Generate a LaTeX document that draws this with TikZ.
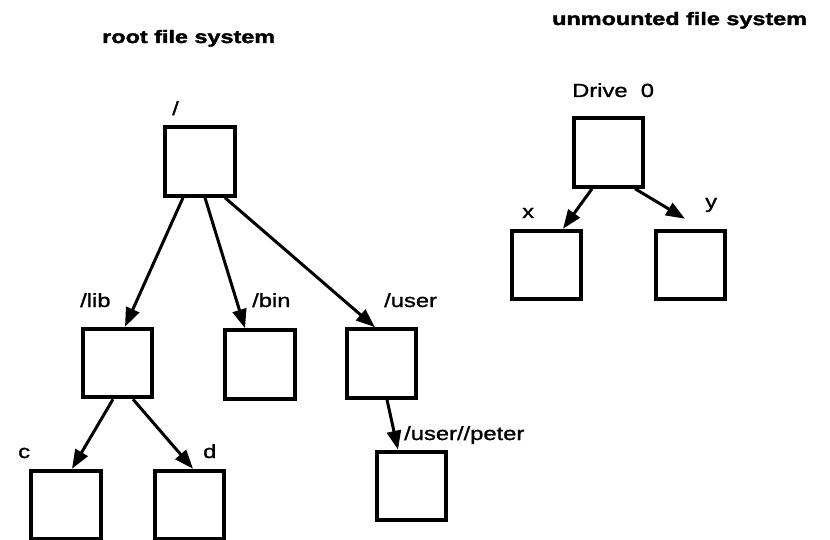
\documentclass[tikz,border=0pt]{standalone}
\usepackage{fontspec}
\usetikzlibrary{arrows.meta,calc}
\newfontfamily\lblfont[FakeStretch=1.25,FakeBold=1.3]{Liberation Sans}
\newfontfamily\ttlfont[FakeStretch=1.3,BoldFeatures={FakeBold=2}]{Liberation Sans}
\begin{document}
\begin{tikzpicture}[x=1pt,y=-1pt,
  dirbox/.style={draw,line width=4pt,minimum width=69.5pt,minimum height=68.5pt,inner sep=0pt},
  lbl/.style={anchor=base west,inner sep=0pt,font=\lblfont\fontsize{19}{21}\selectfont},
  ttl/.style={anchor=base west,inner sep=0pt,font=\ttlfont\bfseries\fontsize{18}{20}\selectfont},
  arr/.style={line width=3pt,-{Triangle[length=19pt,width=14pt]}}]
\useasboundingbox (0,0) rectangle (830,540);

% titles
\node[ttl] (t1) at (102,43) {root file system};
\node[ttl] (t2) at (552,25) {unmounted file system};

% root file system tree
\node[dirbox] (root) at (200,161.5) {};
\node[dirbox] (lib) at (117.5,363) {};
\node[dirbox] (bin) at (260,364.5) {};
\node[dirbox] (user) at (381.5,363.5) {};
\node[dirbox] (c) at (66,505) {};
\node[dirbox] (d) at (189.5,505) {};
\node[dirbox] (peter) at (411.5,486) {};

\node[lbl] (lroot) at (172,115) {/};
\node[lbl] (llib) at (80,307) {/lib};
\node[lbl] (lbin) at (252,307) {/bin};
\node[lbl] (luser) at (384,307) {/user};
\node[lbl] (lc) at (18,458) {c};
\node[lbl] (ld) at (203,458) {d};
\node[lbl] (lpeter) at (404,440) {/user//peter};

\draw[arr] ($(root.south)+(-17,0)$) -- ($(lib.north)+(7.5,0)$);
\draw[arr] ($(root.south)+(5,0)$) -- ($(bin.north)+(-15,0)$);
\draw[arr] ($(root.south)+(25,0)$) -- ($(user.north)+(-6.5,0)$);
\draw[arr] ($(lib.south)+(-4.5,0)$) -- ($(c.north)+(6,0)$);
\draw[arr] ($(lib.south)+(15.5,0)$) -- ($(d.north)+(3.5,0)$);
\draw[arr] ($(user.south)+(5.5,0)$) -- ($(peter.north)+(-13.5,0)$);

% unmounted file system
\node[dirbox] (drive) at (608.5,152.5) {};
\node[dirbox] (nx) at (546.5,265) {};
\node[dirbox] (ny) at (690.5,265) {};

\node[lbl] (ldrive) at (572,97) {Drive\ \ 0};
\node[lbl] (lx) at (522,218) {x};
\node[lbl] (ly) at (705,208) {y};

\draw[arr] ($(drive.south)+(-16.5,0)$) -- ($(nx.north)+(16.5,0)$);
\draw[arr] ($(drive.south)+(26.5,0)$) -- ($(ny.north)+(-5.5,-10)$);
\end{tikzpicture}
\end{document}
